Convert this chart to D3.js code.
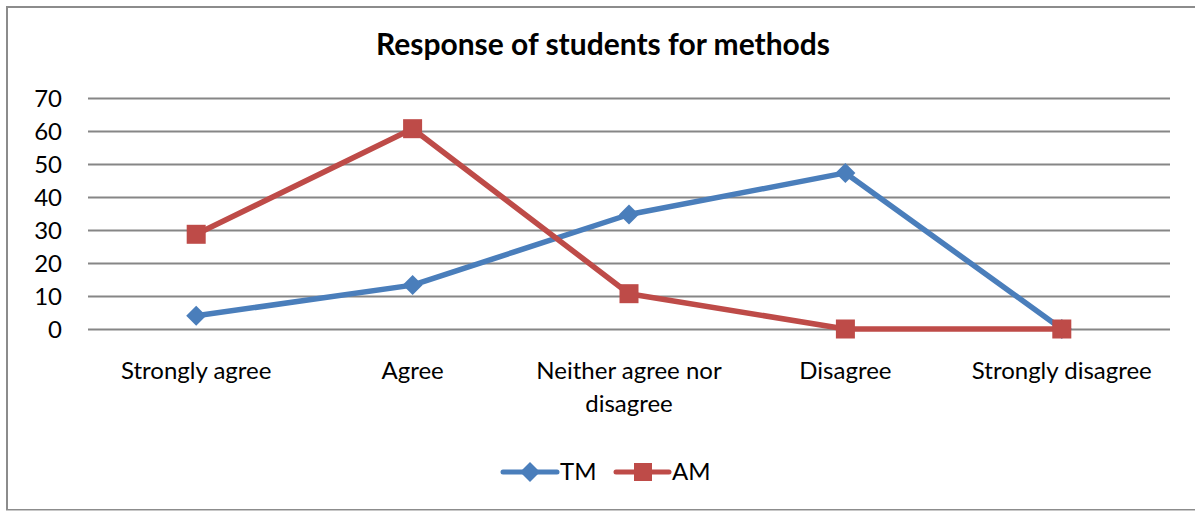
<!DOCTYPE html>
<html><head><meta charset="utf-8">
<script src="https://cdn.jsdelivr.net/npm/d3@7"></script>
<style>
html,body{margin:0;padding:0;background:#fff;}
text{font-family:Lato,"Open Sans",sans-serif;fill:#000;}
</style></head>
<body><svg id="c" width="1195" height="512"></svg>
<script>
const categories = ["Strongly agree","Agree","Neither agree nor disagree","Disagree","Strongly disagree"];
const categoryLines = [["Strongly agree"],["Agree"],["Neither agree nor","disagree"],["Disagree"],["Strongly disagree"]];
const tmValues = [4, 13.3, 34.7, 47.3, 0];
const amValues = [28.7, 60.7, 10.7, 0, 0];
const yTicks = [0,10,20,30,40,50,60,70];
const seriesNames = ["TM","AM"];

const svg = d3.select("#c");
// frame
svg.append("rect").attr("x",7).attr("y",7).attr("width",1200).attr("height",503)
  .attr("fill","none").attr("stroke","#8c8c8c").attr("stroke-width",2);
svg.append("line").attr("x1",6).attr("x2",1195).attr("y1",510.5).attr("y2",510.5).attr("stroke","#c8c8c8").attr("stroke-width",1);

const pLeft=88, pRight=1170, pTop=98, pBottom=329;
const x = d3.scaleBand().domain(categories).range([pLeft,pRight]);
const y = d3.scaleLinear().domain([0,70]).range([pBottom,pTop]);

svg.append("text").attr("x",603).attr("y",55).attr("text-anchor","middle")
  .attr("font-size",30).attr("font-weight","bold").text("Response of students for methods");

// grid
const yAxis = d3.axisLeft(y).tickValues(yTicks).tickSize(-(pRight-pLeft)).tickPadding(26).tickFormat(d3.format("d"));
const ga = svg.append("g").attr("transform",`translate(${pLeft},0)`).call(yAxis);
ga.select(".domain").remove();
ga.selectAll(".tick line").attr("stroke","#868686").attr("stroke-width",2);
ga.selectAll(".tick text").attr("font-size",24).attr("font-family","Lato,sans-serif").attr("fill","#000").attr("dy","0.35em");

// x labels
const xl = svg.append("g");
categories.forEach((c,i)=>{
  const t = xl.append("text").attr("x",x(c)+x.bandwidth()/2).attr("y",379).attr("text-anchor","middle").attr("font-size",24);
  categoryLines[i].forEach((ln,j)=>{
    t.append("tspan").attr("x",x(c)+x.bandwidth()/2).attr("dy",j===0?0:33).text(ln);
  });
});

const cx = c => x(c)+x.bandwidth()/2;
const line = d3.line().x((d,i)=>cx(categories[i])).y(d=>y(d));
const blue="#4a7ebb", red="#be4b48";
const diamond = d3.symbol().type(d3.symbolSquare).size(200);

svg.append("path").datum(tmValues).attr("d",line).attr("fill","none").attr("stroke",blue).attr("stroke-width",5.5).attr("stroke-linejoin","round");
svg.selectAll(".tm").data(tmValues).enter().append("path")
  .attr("d",diamond)
  .attr("transform",(d,i)=>`translate(${cx(categories[i])},${y(d)}) rotate(45)`).attr("fill",blue);

svg.append("path").datum(amValues).attr("d",line).attr("fill","none").attr("stroke",red).attr("stroke-width",5.5).attr("stroke-linejoin","round");
svg.selectAll(".am").data(amValues).enter().append("rect")
  .attr("x",(d,i)=>cx(categories[i])-9.5).attr("y",d=>y(d)-9.5).attr("width",19).attr("height",19).attr("fill",red);

// legend
const lg = svg.append("g");
lg.append("line").attr("x1",503).attr("x2",557).attr("y1",472).attr("y2",472).attr("stroke",blue).attr("stroke-width",5).attr("stroke-linecap","round");
lg.append("path").attr("d",diamond).attr("transform","translate(530,472) rotate(45)").attr("fill",blue);
lg.append("text").attr("x",560).attr("y",472).attr("dy","0.35em").attr("font-size",24).text(seriesNames[0]);
lg.append("line").attr("x1",616).attr("x2",669).attr("y1",472).attr("y2",472).attr("stroke",red).attr("stroke-width",5).attr("stroke-linecap","round");
lg.append("rect").attr("x",634).attr("y",463).attr("width",18).attr("height",18).attr("fill",red);
lg.append("text").attr("x",672).attr("y",472).attr("dy","0.35em").attr("font-size",24).text(seriesNames[1]);
</script></body></html>
